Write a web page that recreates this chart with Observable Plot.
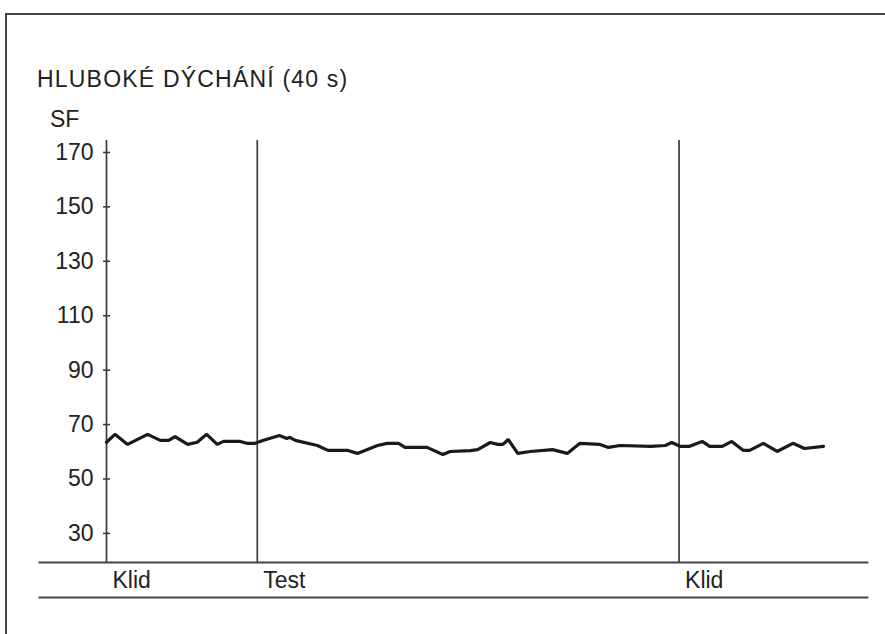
<!DOCTYPE html>
<html>
<head>
<meta charset="utf-8">
<script src="https://cdn.jsdelivr.net/npm/d3@7"></script>
<script src="https://cdn.jsdelivr.net/npm/@observablehq/plot@0.6"></script>
<style>
  html, body { margin: 0; padding: 0; background: #fff; }
  #page { position: relative; width: 885px; height: 634px; overflow: hidden; font-family: "Liberation Sans", Arial, sans-serif; color: #222; }
  #border { position: absolute; left: 5px; top: 13px; right: -4px; bottom: -4px; border-top: 2px solid #444; border-left: 2px solid #444; }
  .lbl { position: absolute; font-size: 23px; line-height: 23px; white-space: nowrap; }
  #title { left: 37px; top: 68px; letter-spacing: 1.2px; }
  #sf { left: 50px; top: 108px; }
  #chart { position: absolute; left: 0; top: 0; }
</style>
</head>
<body>
<div id="page">
  <div id="border"></div>
  <div id="title" class="lbl">HLUBOKÉ DÝCHÁNÍ (40 s)</div>
  <div id="sf" class="lbl">SF</div>
  <div id="chart"></div>
</div>
<script>
// time in seconds (0 = start of the 40 s test), heart rate (SF) in beats/min
const time = [-14.3, -13.5, -12.3, -10.4, -9.2, -8.4, -7.8, -6.6, -5.7, -4.8, -3.8, -3.2, -1.6, -1.0, -0.2,
  0.6, 2.1, 2.8, 3.1, 3.6, 5.7, 6.7, 8.6, 9.5, 11.4, 12.3, 13.4, 14.0, 16.1, 17.6, 18.3, 20.2, 20.9,
  22.1, 22.8, 23.3, 23.8, 24.7, 25.9, 28.0, 29.4, 30.6, 32.5, 33.3, 34.4, 37.3, 38.7,
  39.3, 40.1, 41.0, 42.2, 42.9, 44.1, 45.0, 46.1, 46.7, 48.0, 49.3, 50.8, 51.9, 53.7];
const sf = [63.5, 66.4, 62.7, 66.4, 64.2, 64.2, 65.6, 62.7, 63.5, 66.4, 62.7, 63.8, 63.8, 63.1, 63.1,
  64.2, 66.0, 64.9, 65.3, 64.2, 62.3, 60.5, 60.5, 59.4, 62.3, 63.1, 63.1, 61.6, 61.6, 59.0, 60.1, 60.4, 60.8,
  63.4, 62.7, 62.7, 64.5, 59.4, 60.1, 60.8, 59.4, 63.1, 62.7, 61.6, 62.3, 62.0, 62.3,
  63.4, 62.0, 62.0, 63.8, 62.0, 62.0, 63.8, 60.5, 60.5, 63.1, 60.1, 63.1, 61.2, 62.0];

const phaseStart = [-14.3, 0, 40];
const phaseLabel = ["Klid", "Test", "Klid"];
const yTicks = [30, 50, 70, 90, 110, 130, 150, 170];
const yDomain = [19.3, 174.4];
const xDomain = [-14.3, 53.7];
const baseExtent = [-20.7, 58.0];

const series = time.map((t, i) => ({t, sf: sf[i]}));
const phases = phaseStart.map((t, i) => ({t, label: phaseLabel[i]}));

const chart = Plot.plot({
  width: 885,
  height: 634,
  marginLeft: 106,
  marginRight: 62,
  marginTop: 140,
  marginBottom: 72,
  style: {fontFamily: "Liberation Sans, Arial, sans-serif", color: "#222", background: "transparent"},
  x: {domain: xDomain, axis: null},
  y: {domain: yDomain, axis: null},
  marks: [
    Plot.axisY({ticks: yTicks, label: null, tickSize: 7, dx: 4, tickPadding: 10, fontSize: 23, stroke: "#333", strokeWidth: 1.5, fill: "#222", tickFormat: d => d}),
    Plot.ruleX(phases, {x: "t", stroke: "#3a3a3a", strokeWidth: 1.7}),
    Plot.ruleY([yDomain[0]], {x1: baseExtent[0], x2: baseExtent[1], stroke: "#444", strokeWidth: 1.8}),
    Plot.ruleY([yDomain[0]], {x1: baseExtent[0], x2: baseExtent[1], dy: 35, stroke: "#444", strokeWidth: 1.8}),
    Plot.text(phases, {x: "t", y: () => yDomain[0], text: "label", textAnchor: "start", lineAnchor: "middle", dx: 6, dy: 18, fontSize: 23, fill: "#222"}),
    Plot.line(series, {x: "t", y: "sf", stroke: "#1a1a1a", strokeWidth: 3.2, strokeLinejoin: "miter", curve: "linear"})
  ]
});
document.getElementById("chart").appendChild(chart);
</script>
</body>
</html>
